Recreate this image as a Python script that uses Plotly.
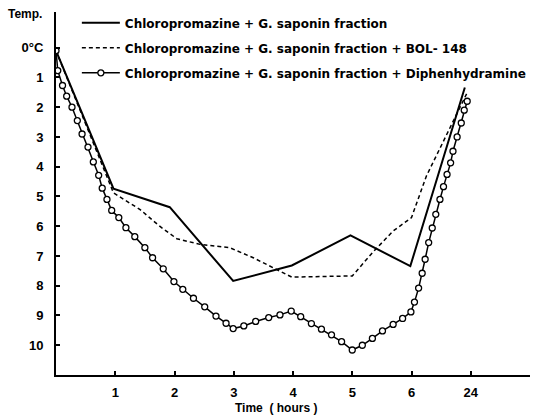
import plotly.graph_objects as go

# --- data (x = position on the time axis: 0 = start, 1..6 hours, 7 = 24 hours) ---
tick_pos = [1, 2, 3, 4, 5, 6, 7]
tick_text = ["1", "2", "3", "4", "5", "6", "24"]
y_tick_vals = [0, 1, 2, 3, 4, 5, 6, 7, 8, 9, 10]
y_tick_text = ["0°C", "1", "2", "3", "4", "5", "6", "7", "8", "9", "10"]

names = [
    "Chloropromazine + G. saponin fraction",
    "Chloropromazine + G. saponin fraction + BOL- 148",
    "Chloropromazine + G. saponin fraction + Diphenhydramine",
]

solid_x = [0, 0.97, 1.92, 2.99, 3.98, 4.97, 5.98, 6.90]
solid_y = [0.1, 4.74, 5.36, 7.84, 7.32, 6.31, 7.34, 1.34]

dash_x = [0, 0.97, 1.42, 1.75, 2.04, 2.43, 2.93, 3.33, 3.98, 5.00, 5.35, 5.69, 6.00, 6.25, 6.93]
dash_y = [0.1, 4.88, 5.44, 6.00, 6.42, 6.61, 6.72, 7.06, 7.71, 7.67, 6.87, 6.16, 5.71, 4.32, 1.55]

circ_x = [0, 0.03, 0.11, 0.18, 0.27, 0.36, 0.44, 0.54, 0.63, 0.72, 0.78, 0.86, 0.94,
          1.06, 1.18, 1.33, 1.50, 1.63, 1.81, 1.99, 2.14, 2.32, 2.51, 2.70, 2.87, 2.99,
          3.17, 3.37, 3.59, 3.78, 3.97, 4.13, 4.31, 4.48, 4.65, 4.82, 5.00, 5.17, 5.34,
          5.51, 5.69, 5.85, 5.99, 6.05, 6.12, 6.18, 6.23, 6.29, 6.35, 6.41, 6.48, 6.54,
          6.60, 6.66, 6.70, 6.77, 6.84, 6.89, 6.94]
circ_y = [0.1, 0.77, 1.27, 1.63, 2.00, 2.45, 2.90, 3.34, 3.84, 4.29, 4.72, 5.10, 5.47,
          5.71, 6.05, 6.35, 6.72, 7.06, 7.43, 7.86, 8.12, 8.42, 8.71, 9.02, 9.26, 9.44,
          9.35, 9.20, 9.07, 8.98, 8.85, 9.04, 9.27, 9.46, 9.65, 9.88, 10.16, 10.00, 9.77,
          9.52, 9.30, 9.10, 8.88, 8.55, 8.08, 7.58, 7.11, 6.55, 6.06, 5.60, 5.10, 4.67,
          4.26, 3.87, 3.48, 3.00, 2.53, 2.10, 1.80]

FONT = "Liberation Sans"
LEG_FONT = "DejaVu Sans"

fig = go.Figure()
fig.add_trace(go.Scatter(
    x=solid_x, y=solid_y, mode="lines", name=names[0], legendgroup="a",
    line=dict(color="black", width=2),
))
fig.add_trace(go.Scatter(
    x=dash_x, y=dash_y, mode="lines", name=names[1], legendgroup="b",
    line=dict(color="black", width=1.5, dash="4px,3px"),
))
fig.add_trace(go.Scatter(
    x=circ_x, y=circ_y, mode="lines+markers", name=names[2], legendgroup="c",
    line=dict(color="black", width=1.5),
    marker=dict(symbol="circle", size=6, color="white",
                line=dict(color="black", width=1.3)),
))

fig.update_layout(
    width=534, height=418,
    margin=dict(l=56, r=4, t=12, b=43, autoexpand=False),
    paper_bgcolor="white", plot_bgcolor="white",
    font=dict(family=FONT, size=12, color="black", weight="bold"),
    showlegend=True,
    legend=dict(
        x=0.044, y=1.01, xanchor="left", yanchor="top",
        bgcolor="rgba(0,0,0,0)", borderwidth=0, itemwidth=38,
        font=dict(family=LEG_FONT, size=12, color="black", weight="bold"),
        tracegroupgap=6,
    ),
    xaxis=dict(
        range=[0, 8], tickmode="array", tickvals=tick_pos, ticktext=tick_text,
        showgrid=False, zeroline=False, showline=True, linecolor="black", linewidth=2,
        ticks="inside", ticklen=4, tickwidth=1.5, tickcolor="black",
        tickfont=dict(family=FONT, size=13, color="black", weight="bold"),
        ticklabelstandoff=4, automargin=False,
    ),
    yaxis=dict(
        range=[11, -1.2], tickmode="array", tickvals=y_tick_vals, ticktext=y_tick_text,
        showgrid=False, zeroline=False, showline=True, linecolor="black", linewidth=2,
        ticks="inside", ticklen=4, tickwidth=1.5, tickcolor="black",
        tickfont=dict(family=FONT, size=13, color="black", weight="bold"),
        ticklabelstandoff=8, automargin=False,
    ),
    annotations=[
        dict(text="Temp.", xref="paper", yref="paper", x=-0.065, y=0.994,
             xanchor="center", yanchor="middle", showarrow=False,
             font=dict(family=FONT, size=12, color="black", weight="bold")),
        dict(text="Time  ( hours )", xref="paper", yref="paper", x=0.464, y=-0.09,
             xanchor="center", yanchor="middle", showarrow=False,
             font=dict(family=FONT, size=12, color="black", weight="bold")),
    ],
)

fig.write_html("out.html",
               config={"displayModeBar": False},
               post_script="document.body.style.margin='0';document.body.style.padding='0';")
